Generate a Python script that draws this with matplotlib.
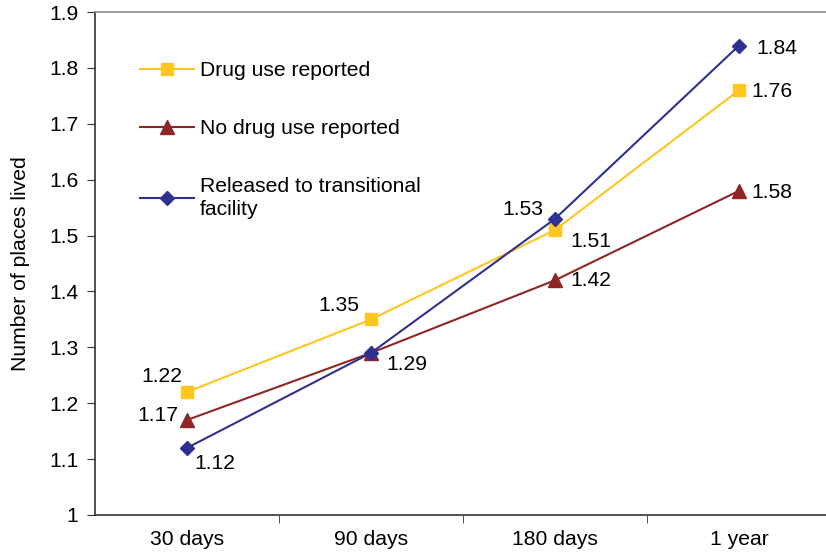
import matplotlib
matplotlib.use("Agg")
import matplotlib.pyplot as plt

plt.rcParams['font.family'] = ['Liberation Sans', 'DejaVu Sans']

categories = ["30 days", "90 days", "180 days", "1 year"]
drug_use = [1.22, 1.35, 1.51, 1.76]
no_drug_use = [1.17, 1.29, 1.42, 1.58]
transitional = [1.12, 1.29, 1.53, 1.84]

yellow = "#FFC61E"
red = "#8E2626"
blue = "#2E3192"

fig = plt.figure(figsize=(8.26, 5.53), dpi=100)
ax = fig.add_axes([95 / 826, 38 / 553, 736 / 826, 503 / 553])

x = list(range(len(categories)))
ax.plot(x, drug_use, color=yellow, lw=1.5, marker="s", ms=8, label="Drug use reported")
ax.plot(x, no_drug_use, color=red, lw=1.5, marker="^", ms=10, label="No drug use reported")
ax.plot(x, transitional, color=blue, lw=1.5, marker="D", ms=7,
        label="Released to transitional\nfacility")

fs = 15.2
def lab(i, v, dx, dy):
    ax.annotate(f"{v:.2f}", (i, v), xytext=(dx, dy), textcoords="offset points",
                ha="center", va="center", fontsize=fs)

# drug use labels
lab(0, drug_use[0], -18, 11)
lab(1, drug_use[1], -23, 10)
lab(2, drug_use[2], 26, -8)
lab(3, drug_use[3], 24, -1)
# no drug use labels
lab(0, no_drug_use[0], -21, 3)
lab(1, no_drug_use[1], 26, -8)
lab(2, no_drug_use[2], 26, 0)
lab(3, no_drug_use[3], 24, -1)
# transitional labels
lab(0, transitional[0], 20, -11)
lab(2, transitional[2], -23, 7)
lab(3, transitional[3], 27, -2)

ax.set_xlim(-0.5, 3.5)
ax.set_ylim(1.0, 1.9)
ax.set_yticks([1.0, 1.1, 1.2, 1.3, 1.4, 1.5, 1.6, 1.7, 1.8, 1.9])
ax.set_yticklabels(["1", "1.1", "1.2", "1.3", "1.4", "1.5", "1.6", "1.7", "1.8", "1.9"])
ax.set_xticks(x)
ax.set_xticklabels(categories)
ax.set_xticks([0.5, 1.5, 2.5], minor=True)
ax.tick_params(axis="x", which="major", length=0, pad=11, labelsize=fs)
ax.tick_params(axis="x", which="minor", length=6, direction="out", color="#333333")
ax.tick_params(axis="y", length=6, direction="out", labelsize=fs, color="#333333", pad=6)

for s in ["left", "bottom"]:
    ax.spines[s].set_color("#333333")
    ax.spines[s].set_linewidth(1.2)
ax.spines["top"].set_color("#8A8F94")
ax.spines["top"].set_linewidth(1.2)
ax.spines["right"].set_visible(False)

ax.set_ylabel("Number of places lived", fontsize=fs, labelpad=14)

leg = ax.legend(loc="upper left", bbox_to_anchor=(0.036, 0.94), frameon=False, fontsize=fs,
                handlelength=2.55, handletextpad=0.25, labelspacing=1.85)
for t in leg.get_texts():
    t.set_linespacing(1.25)

fig.savefig("out.png", dpi=100)
